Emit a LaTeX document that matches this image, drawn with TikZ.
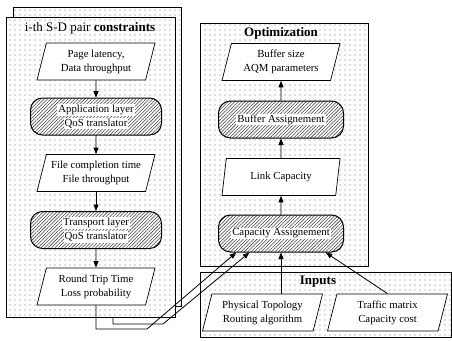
\documentclass[tikz,border=0pt]{standalone}
\usepackage{fontspec}
\setmainfont{Liberation Serif}
\usetikzlibrary{shapes.geometric,patterns.meta,arrows.meta}

\tikzset{
  panel/.style={draw=black,line width=1pt,preaction={fill=white},
    pattern={Dots[distance=5pt,radius=0.55pt]},pattern color=black!55},
  data/.style={trapezium,trapezium left angle=70,trapezium right angle=110,
    trapezium stretches body,draw=black,fill=white,line width=0.7pt,
    minimum width=118pt,minimum height=37pt,align=center,inner sep=1pt},
  translator/.style={rectangle,rounded corners=12pt,draw=black,line width=1pt,
    preaction={fill=white},pattern={Lines[angle=45,distance=2.4pt,line width=0.55pt]},
    pattern color=black!75,minimum height=37pt,align=center,inner sep=1pt},
  flow/.style={-{Triangle[length=6.5pt,width=5pt]},line width=0.8pt},
  paneltitle/.style={font=\fontsize{13}{15}\selectfont}
}
\newcommand{\wl}[1]{{\fboxsep=1pt\colorbox{white}{#1}}} % white strip on the hatching
\newcommand{\drawpanel}[4]{ % Parameters: left, top, right, bottom
  \draw[panel] (#1,#2) rectangle (#3,#4);
}

\begin{document}
\begin{tikzpicture}[x=1pt,y=-1pt,font=\fontsize{10.8}{14}\selectfont]
  \useasboundingbox (0,0) rectangle (452,340);
  % panels
  \drawpanel{13}{7}{181}{306}
  \drawpanel{6}{17}{175}{317}
  \drawpanel{200}{23}{368}{266}
  \drawpanel{200}{272}{451}{337}
  \node[paneltitle] (sdTitle) at (90,28) {i-th S-D pair \textbf{constraints}};
  \node[paneltitle] (optTitle) at (281,33) {\textbf{Optimization}};
  \node[paneltitle] (inTitle) at (318,282) {\textbf{Inputs}};

  % S-D pair chain
  \node[data] (pageLat) at (96,61.5) {Page latency,\\Data throughput};
  \node[translator,minimum width=131pt] (appQoS) at (96,116.5) {\wl{Application layer}\\\wl{QoS translator}};
  \node[data] (fileDone) at (96,173) {File completion time\\File throughput};
  \node[translator,minimum width=131pt] (tcpQoS) at (96,230) {\wl{Transport layer}\\\wl{QoS translator}};
  \node[data] (rtt) at (96,286.5) {Round Trip Time\\Loss probability};
  \draw[flow] (pageLat) -- (appQoS);
  \draw[flow] (appQoS) -- (fileDone);
  \draw[flow] (fileDone) -- (tcpQoS);
  \draw[flow] (tcpQoS) -- (rtt);

  % optimization chain
  \node[data] (bufSize) at (281,62) {Buffer size\\AQM parameters};
  \node[translator,minimum width=125pt] (bufAssign) at (281,119.5) {\wl{Buffer Assignement}};
  \node[data] (linkCap) at (281,177) {Link Capacity};
  \node[translator,minimum width=125pt] (capAssign) at (281,233.5) {\wl{Capacity Assignement}};
  \draw[flow] (capAssign) -- (linkCap);
  \draw[flow] (linkCap) -- (bufAssign);
  \draw[flow] (bufAssign) -- (bufSize);

  % inputs
  \node[data,minimum width=120pt] (topo) at (262.5,312.5) {Physical Topology\\Routing algorithm};
  \node[data,minimum width=120pt] (traffic) at (387.5,312.5) {Traffic matrix\\Capacity cost};
  \draw[flow] (capAssign.south |- topo.north) -- (capAssign.south);
  \draw[flow] (traffic.north) -- (capAssign.-23);

  % pairs into the optimization
  \coordinate (rttBend) at (147,329);
  \coordinate (otherPairs) at (113,317);
  \coordinate (otherBend) at (163,324);
  \draw[flow] (rtt.south) |- (rttBend) -- (capAssign.-157);
  \draw[flow] (otherPairs) |- (otherBend) -- (capAssign.-149);
\end{tikzpicture}
\end{document}
